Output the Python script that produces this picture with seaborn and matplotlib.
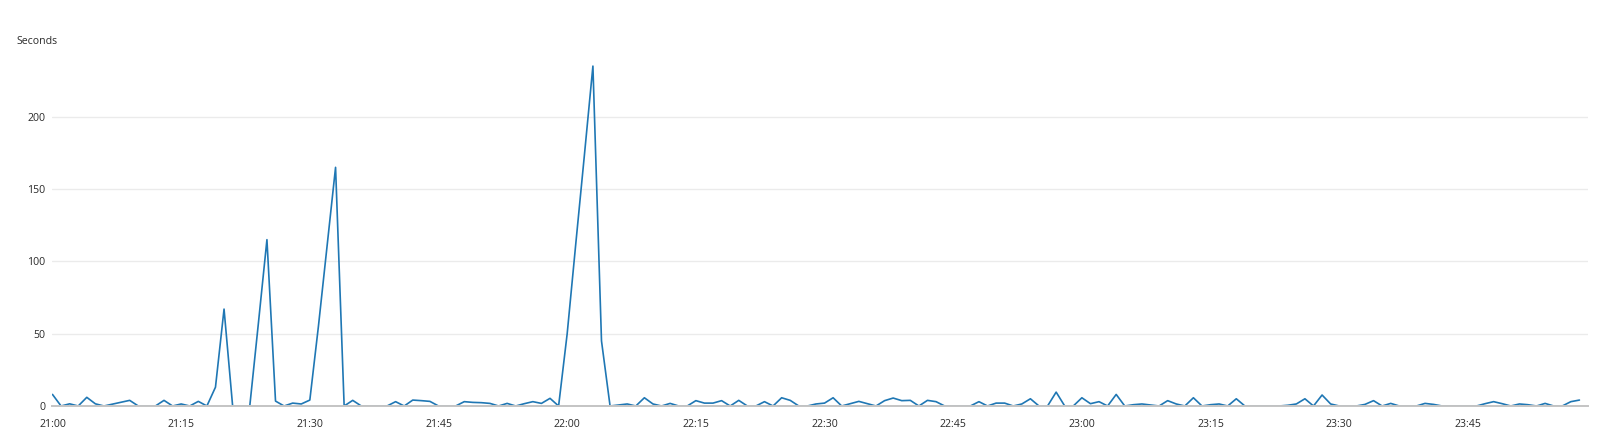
import numpy as np
import pandas as pd
import matplotlib
matplotlib.use("Agg")
import matplotlib.pyplot as plt
import matplotlib.dates as mdates
import seaborn as sns

# ---------------------------------------------------------------------------
# DATA - one value per minute, 21:00 .. 23:58
# ---------------------------------------------------------------------------
START = "2024-01-01 21:00"
seconds = [
    8, 0, 1.5, 0, 6, 1.5, 0, 1.3, 2.6, 3.9,            # 21:00
    0, 0, 0, 3.9, 0, 1.4, 0, 3.2, 0, 13,              # 21:10
    67, 0, 0, 0, 57, 115, 3.4, 0, 2, 1.4,             # 21:20
    4.1, 55, 110, 165, 0, 3.9, 0, 0, 0, 0,            # 21:30
    3, 0, 4.1, 3.7, 3.2, 0, 0, 0, 3, 2.5,             # 21:40
    2.3, 1.8, 0, 1.8, 0, 1.6, 3, 1.8, 5.3, 0,         # 21:50
    50, 112, 173, 235, 45, 0, 0.7, 1.4, 0, 5.7,       # 22:00
    1.4, 0, 1.8, 0, 0, 3.7, 2, 2, 3.7, 0,             # 22:10
    3.9, 0, 0, 3, 0, 5.7, 3.9, 0, 0, 1.4,             # 22:20
    2, 5.7, 0, 1.6, 3.2, 1.6, 0, 3.7, 5.5, 3.7,       # 22:30
    3.9, 0, 3.9, 3, 0, 0, 0, 0, 3, 0,                 # 22:40
    2, 2, 0, 1.4, 5, 0, 0, 9.6, 0, 0,                 # 22:50
    5.7, 1.6, 3, 0, 8, 0, 0.9, 1.4, 0.7, 0,           # 23:00
    3.7, 1.4, 0, 5.7, 0, 0.9, 1.4, 0, 5, 0,           # 23:10
    0, 0, 0, 0, 0.5, 1.4, 5, 0, 7.6, 1.4,             # 23:20
    0, 0, 0, 1.1, 3.7, 0, 1.8, 0, 0, 0,               # 23:30
    1.8, 1.1, 0, 0, 0, 0, 0, 1.6, 3, 1.6,             # 23:40
    0, 1.4, 0.9, 0, 1.8, 0, 0, 3, 4.1,                # 23:50
]
y_ticks = [0, 50, 100, 150, 200]

df = pd.DataFrame({
    "time": pd.date_range(START, periods=len(seconds), freq="min"),
    "seconds": seconds,
})

# ---------------------------------------------------------------------------
# PLOT
# ---------------------------------------------------------------------------
sns.set_theme(style="white")
plt.rcParams["font.family"] = ["Open Sans", "DejaVu Sans"]

fig = plt.figure(figsize=(16, 4.36), dpi=100)
ax = fig.add_axes([0.0328, 0.0688, 0.9597, 0.8294])

sns.lineplot(data=df, x="time", y="seconds", ax=ax,
             color="#1f77b4", linewidth=1.2)

ax.set_xlim(pd.Timestamp(START), pd.Timestamp(START) + pd.Timedelta(minutes=179))
ax.set_ylim(0, 250)
ax.set_yticks(y_ticks)
ax.xaxis.set_major_locator(mdates.MinuteLocator(byminute=[0, 15, 30, 45]))
ax.xaxis.set_major_formatter(mdates.DateFormatter("%H:%M"))

ax.grid(axis="y", color="#ebebeb", linewidth=1)
ax.grid(axis="x", visible=False)
ax.set_axisbelow(True)
for side in ["top", "right", "left"]:
    ax.spines[side].set_visible(False)
ax.spines["bottom"].set_color("#c4c4c4")
ax.spines["bottom"].set_linewidth(1.4)

ax.tick_params(axis="y", length=0, pad=5, labelsize=7.6, labelcolor="#2a2a2a")
ax.tick_params(axis="x", length=3.5, width=0.8, color="#c4c4c4", pad=5.5,
               labelsize=7.6, labelcolor="#2a2a2a")
ax.set_xlabel("")
ax.set_ylabel("")

fig.text(16 / 1600, 1 - 42 / 436, "Seconds", fontsize=7.6, color="#2a2a2a",
         va="center", ha="left")

fig.savefig("out.png", dpi=100)
